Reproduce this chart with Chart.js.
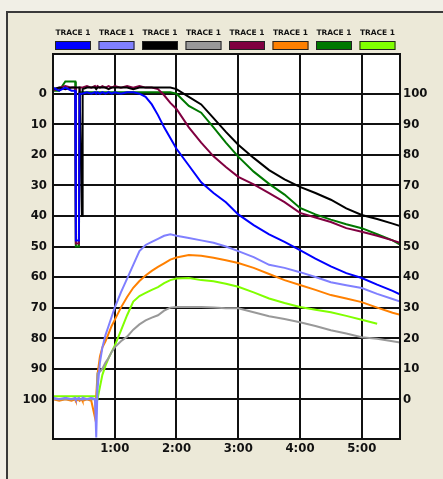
<!DOCTYPE html>
<html>
<head>
<meta charset="utf-8">
<title>Traces</title>
<script src="https://cdn.jsdelivr.net/npm/chart.js@4.4.1/dist/chart.umd.min.js"></script>
<style>
  html, body { margin: 0; padding: 0; background: #ECE9D8; }
  canvas { display: block; }
</style>
</head>
<body>
<canvas id="chart" width="443" height="479"></canvas>
<script>
// time in minutes (shared by all traces)
const times = [
  0, 0.1, 0.2, 0.3,
  0.36, 0.37, 0.42, 0.43,
  0.47, 0.48, 0.55, 0.62,
  0.68, 0.7, 0.72, 0.76,
  0.8, 0.85, 0.9, 0.95,
  1.0, 1.1, 1.2, 1.3,
  1.4, 1.5, 1.6, 1.7,
  1.8, 1.9, 2.0, 2.2,
  2.4, 2.6, 2.8, 3.0,
  3.25, 3.5, 3.75, 4.0,
  4.25, 4.5, 4.75, 5.0,
  5.25, 5.5, 5.65
];

// values read against the right hand axis (0 bottom .. 100 top)
const blueVals = [
  102, 101, 102, 101,
  101, 52, 52, 100,
  100, 100, 100.5, 100,
  100.5, 100, 100.5, 100,
  100.5, 100, 100.5, 100,
  100.5, 100, 100.5, 100.5,
  100, 99, 96.5, 93,
  89, 85.5, 82, 76.5,
  71, 67.5, 64.5, 60.5,
  57, 54, 51.5, 48.8,
  46, 43.5, 41.3, 39.7,
  37.5, 35.5, 34
];
const lightBlueVals = [
  0.5, 0, 0.5, 0,
  0.5, 0, 0.5, 0,
  0, 0.5, 0, 0.5,
  0, -12.5, 3, 12,
  17, 21, 24, 27,
  30, 35, 39.5, 44,
  48.5, 50.5, 51.5, 52.5,
  53.5, 54, 53.5, 52.8,
  52, 51.2, 50, 48.5,
  46.5, 44, 43, 41.6,
  40, 38.3, 37.3, 36.4,
  34.5, 32.8, 31.8
];
const blackVals = [
  101.5, 102, 101.5, 102,
  102, 102, 102, 102,
  60, 101.5, 102, 102,
  102, 101.5, 102, 102,
  102, 102, 101.5, 102,
  102, 102, 102, 101.5,
  102, 102, 102, 102,
  102, 102, 101.5, 99,
  96.5, 92, 87.5, 83.3,
  79, 75, 72, 69.5,
  67.5, 65.3, 62.5, 60.3,
  59, 57.5, 56.5
];
const grayVals = [
  0, 0, 0, 0,
  0, 0, 0, 0,
  0, 0, 0, 0,
  0, -5, 8.5, 9,
  10, 12, 13.5, 15.5,
  17, 19, 20.5, 22.8,
  24.5, 25.8, 26.7, 27.5,
  29, 30, 30.2, 30.2,
  30.2, 30, 29.8, 29.8,
  28.5, 27.2, 26.3, 25.2,
  24, 22.6, 21.5, 20.3,
  19.8, 19, 18.5
];
const maroonVals = [
  101, 102, 102.5, 102,
  102, 51, 51, 102,
  102, 102, 102.5, 102,
  102.5, 102, 102.5, 102,
  102.5, 102, 102.5, 102,
  102.5, 102, 102.5, 102,
  102.5, 102, 102, 101.5,
  99.5, 97, 95, 89,
  84, 79.5, 76, 72.8,
  70.3, 67.5, 64.5, 61,
  59.5, 58, 56, 54.8,
  53.5, 52, 51
];
const orangeVals = [
  0, -0.5, 0, -0.5,
  0, -0.5, 0, -0.5,
  0, -0.5, 0, -0.5,
  -6, 1, 8, 14,
  17, 19, 21.5, 24,
  26, 30, 33.5, 36.5,
  38.7, 40.5, 42, 43.3,
  44.5, 45.7, 46.4, 47.2,
  47, 46.3, 45.5, 44.6,
  43, 41, 39, 37.4,
  35.8, 34.1, 33, 31.8,
  30, 28.3, 27.5
];
const greenVals = [
  101, 101, 104, 104,
  104, 50, 50, 100.5,
  100.5, 100.5, 100.5, 100.5,
  100.5, 100.5, 100.5, 100.5,
  100.5, 100.5, 100.5, 100.5,
  100.5, 100.5, 100.5, 100.5,
  100.5, 100.5, 100.5, 100.5,
  100.5, 100.5, 100, 96,
  93.8, 89, 84, 79.4,
  74.5, 70.5, 67, 62.6,
  60.5, 58.8, 57.3, 56,
  54, 52, 50.3
];
const limeVals = [
  1, 1, 1, 1,
  1, 1, 1, 1,
  1, 1, 1, 1,
  1, 1, 0, 4,
  8, 11, 13.5, 15.5,
  17.5, 22.5, 27.5, 32,
  33.8, 34.8, 35.8, 36.7,
  38, 39, 39.5, 39.7,
  39, 38.6, 37.8, 36.8,
  35, 33, 31.5, 30.2,
  29.3, 28.5, 27.3, 26,
  24.7, null, null
];

const seriesLabels = ['TRACE 1', 'TRACE 1', 'TRACE 1', 'TRACE 1', 'TRACE 1', 'TRACE 1', 'TRACE 1', 'TRACE 1'];
const seriesValues = [blueVals, lightBlueVals, blackVals, grayVals, maroonVals, orangeVals, greenVals, limeVals];
const seriesColors = ['#0000ff', '#8080ff', '#000000', '#999999', '#800040', '#ff8000', '#007800', '#80ff00'];

const xTickValues = [1, 2, 3, 4, 5];
const xTickLabels = ['1:00', '2:00', '3:00', '4:00', '5:00'];
const yTickValues = [0, 10, 20, 30, 40, 50, 60, 70, 80, 90, 100];

const tickFont = { family: "'DejaVu Sans Condensed', 'DejaVu Sans', sans-serif", size: 13, weight: 'bold' };

const datasets = seriesValues.map((vals, i) => ({
  label: seriesLabels[i],
  data: vals.map((v, j) => ({ x: times[j], y: v })),
  borderColor: seriesColors[i],
  backgroundColor: seriesColors[i],
  borderWidth: 2,
  pointRadius: 0,
  tension: 0,
  yAxisID: 'y2',
  order: i
}));

// window-ish frame, white plot area, plot border and the legend on top
const framePlugin = {
  id: 'frame',
  beforeDraw(chart) {
    const { ctx, chartArea: a, width, height } = chart;
    ctx.save();
    ctx.fillStyle = '#F1EFE6';
    ctx.fillRect(0, 0, width, height);
    ctx.fillStyle = '#ECE9D8';
    ctx.fillRect(8, 13, width - 8, height - 13);
    ctx.strokeStyle = '#3a3a3a';
    ctx.lineWidth = 2;
    ctx.beginPath();
    ctx.moveTo(7, height);
    ctx.lineTo(7, 12);
    ctx.lineTo(width, 12);
    ctx.stroke();
    ctx.fillStyle = '#ffffff';
    ctx.fillRect(a.left, a.top, a.right - a.left, a.bottom - a.top);
    ctx.restore();
  },
  afterDatasetsDraw(chart) {
    const { ctx, chartArea: a } = chart;
    ctx.save();
    ctx.strokeStyle = '#111';
    ctx.lineWidth = 2;
    ctx.strokeRect(a.left, a.top, a.right - a.left, a.bottom - a.top);
    ctx.restore();
  },
  afterDraw(chart) {
    const { ctx } = chart;
    ctx.save();
    ctx.font = "bold 7.5px 'DejaVu Sans', sans-serif";
    ctx.textAlign = 'center';
    ctx.textBaseline = 'middle';
    chart.data.datasets.forEach((ds, i) => {
      const x = 55 + i * 43.5;
      ctx.fillStyle = '#111';
      ctx.fillText(ds.label, x + 18, 33);
      ctx.fillStyle = ds.borderColor;
      ctx.fillRect(x, 41, 36, 9);
      ctx.strokeStyle = '#222';
      ctx.lineWidth = 1;
      ctx.strokeRect(x + 0.5, 41.5, 35, 8);
    });
    ctx.restore();
  }
};

new Chart(document.getElementById('chart'), {
  type: 'line',
  data: { datasets },
  plugins: [framePlugin],
  options: {
    responsive: false,
    animation: false,
    devicePixelRatio: 1,
    layout: { padding: { top: 54, left: 0, right: 0, bottom: 0 } },
    plugins: { legend: { display: false }, tooltip: { enabled: false } },
    scales: {
      x: {
        type: 'linear',
        min: 0,
        max: 5.62,
        afterBuildTicks: (s) => { s.ticks = xTickValues.map((v) => ({ value: v })); },
        afterFit: (s) => { s.height = 40; },
        ticks: {
          color: '#111',
          font: tickFont,
          padding: 2,
          maxRotation: 0,
          callback: (v) => xTickLabels[xTickValues.indexOf(v)]
        },
        grid: { color: '#111', lineWidth: 2, drawTicks: false },
        border: { display: false }
      },
      y: {
        type: 'linear',
        position: 'left',
        reverse: true,
        min: -13,
        max: 113,
        afterBuildTicks: (s) => { s.ticks = yTickValues.map((v) => ({ value: v })); },
        afterFit: (s) => { s.width = 53; },
        ticks: { color: '#111', font: tickFont, padding: 6 },
        grid: { color: '#111', lineWidth: 2, drawTicks: false },
        border: { display: false }
      },
      y2: {
        type: 'linear',
        position: 'right',
        min: -13,
        max: 113,
        afterBuildTicks: (s) => { s.ticks = yTickValues.map((v) => ({ value: v })); },
        afterFit: (s) => { s.width = 43; },
        ticks: { color: '#111', font: tickFont, padding: 3 },
        grid: { display: false, drawTicks: false },
        border: { display: false }
      }
    }
  }
});
</script>
</body>
</html>
